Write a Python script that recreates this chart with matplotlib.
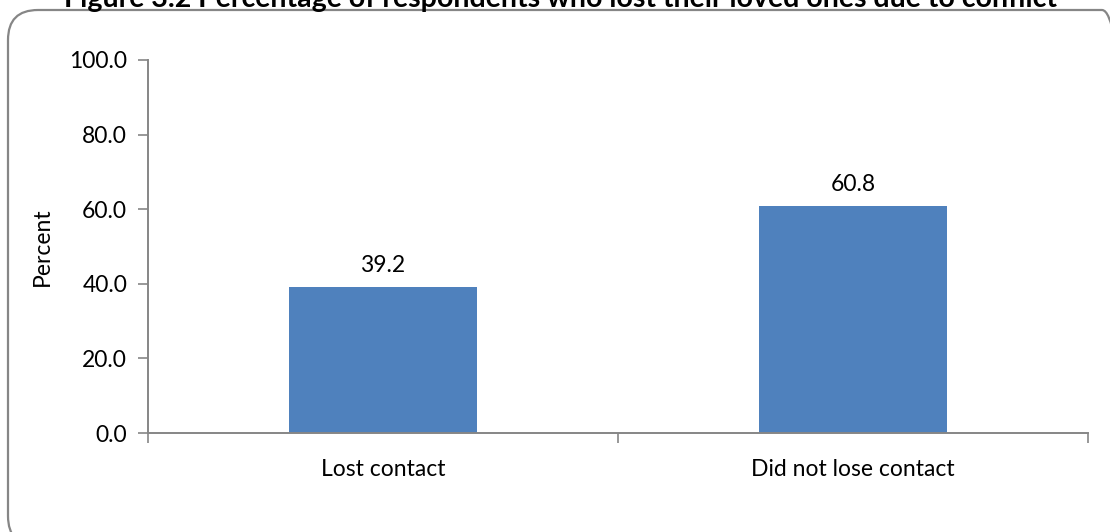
import matplotlib.pyplot as plt
from matplotlib.patches import FancyBboxPatch
from matplotlib.transforms import IdentityTransform

categorias = ["Lost contact", "Did not lose contact"]
percentuais = [39.2, 60.8]
ticks_y = [0, 20, 40, 60, 80, 100]

titulo = "Figure 3.2 Percentage of respondents who lost their loved ones due to conflict"

plt.rcParams['font.family'] = ['Lato', 'DejaVu Sans']

fig = plt.figure(figsize=(11.1, 5.32), dpi=100)
fig.patch.set_facecolor('white')

# moldura arredondada (coordenadas em pixels)
moldura = FancyBboxPatch(
    (8, -14), 1124, 536,
    boxstyle='round,pad=0,rounding_size=30',
    facecolor='none', edgecolor='#868686', linewidth=1.6,
    transform=IdentityTransform()
)
fig.patches.append(moldura)

ax = fig.add_axes([148 / 1110, 1 - 433 / 532, (1088 - 148) / 1110, (433 - 60) / 532])
ax.set_facecolor('none')

x = list(range(len(categorias)))
bars = ax.bar(x, percentuais, width=0.40, color='#4F81BD', zorder=2)

for bar in bars:
    h = bar.get_height()
    ax.annotate(f"{h:.1f}", (bar.get_x() + bar.get_width() / 2, h),
                xytext=(0, 8), textcoords='offset points',
                ha='center', va='bottom', fontsize=16.5, color='#000000')

ax.set_xlim(-0.5, len(categorias) - 0.5)
ax.set_ylim(0, 100)
ax.set_yticks(ticks_y)
ax.set_yticklabels([f"{v:.1f}" for v in ticks_y], fontsize=16.5)
ax.set_xticks(x)
ax.set_xticklabels(categorias, fontsize=16.5)
ax.set_xticks([i - 0.5 for i in range(len(categorias) + 1)], minor=True)

ax.tick_params(axis='x', which='major', length=0, pad=19)
ax.tick_params(axis='x', which='minor', length=7, width=1.2, color='#868686', direction='out')
ax.tick_params(axis='y', length=7, width=1.2, color='#868686', pad=8)

for lado in ['top', 'right']:
    ax.spines[lado].set_visible(False)
for lado in ['left', 'bottom']:
    ax.spines[lado].set_color('#868686')
    ax.spines[lado].set_linewidth(1.4)

ax.set_ylabel("Percent", fontsize=16.5, labelpad=12)

fig.text(560 / 1110, 1 - 7 / 532, titulo, ha='center', va='baseline',
         fontsize=20.5, fontweight='bold')

fig.savefig('out.png', dpi=100)
plt.close()
